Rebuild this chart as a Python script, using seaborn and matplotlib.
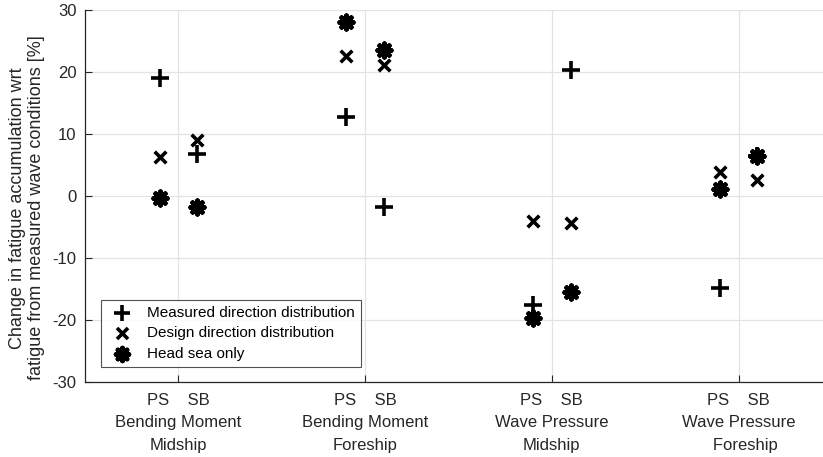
import numpy as np
import pandas as pd
import matplotlib
matplotlib.use("Agg")
import matplotlib.pyplot as plt
import seaborn as sns

# Load cases along the x axis
groups = ["Bending Moment\nMidship", "Bending Moment\nForeship",
          "Wave Pressure\nMidship", "Wave Pressure\n   Foreship"]
sides = ["PS", "SB"]
side_offset = {"PS": -0.1, "SB": 0.1}

# Change in fatigue accumulation [%], ordered per group as (PS, SB)
measured = [19.1, 6.7, 12.7, -1.7, -17.6, 20.4, -14.9, 6.4]
design = [6.3, 9.0, 22.6, 21.2, -4.1, -4.4, 3.9, 2.6]
head_sea = [-0.4, -1.7, 28.0, 23.6, -19.7, -15.5, 1.2, 6.5]

series = {
    "Measured direction distribution": measured,
    "Design direction distribution": design,
    "Head sea only": head_sea,
}

rows = []
for name, vals in series.items():
    for i, v in enumerate(vals):
        g = i // 2
        s = sides[i % 2]
        rows.append({"pos": g + 1 + side_offset[s], "value": v, "case": name})
df = pd.DataFrame(rows)

sns.set_theme(style="whitegrid")
plt.rcParams["font.family"] = ["Liberation Sans", "DejaVu Sans"]

fig = plt.figure(figsize=(8.23, 4.57), dpi=100)
ax = fig.add_axes([85 / 823, 1 - 382 / 457, 747 / 823, 372 / 457])

markers = {
    "Measured direction distribution": "+",
    "Design direction distribution": "x",
    "Head sea only": (8, 2, 0),
}
sizes = {"Measured direction distribution": 150,
         "Design direction distribution": 70,
         "Head sea only": 95}
widths = {"Measured direction distribution": 2.6,
          "Design direction distribution": 2.6,
          "Head sea only": 3.4}

for name in series:
    sub = df[df["case"] == name]
    sns.scatterplot(data=sub, x="pos", y="value", marker=markers[name],
                    color="black", s=sizes[name], linewidth=widths[name],
                    label=name, ax=ax, zorder=3)

ax.set_xlim(0.5, 4.5)
ax.set_ylim(-30, 30)
ax.set_yticks(np.arange(-30, 31, 10))
ax.set_yticklabels([str(v) for v in np.arange(-30, 31, 10)])
ax.set_xticks([1, 2, 3, 4])
ax.set_xticklabels(["PS    SB\n" + g for g in groups], linespacing=1.6)
ax.set_xlabel("")
ax.set_ylabel("Change in fatigue accumulation wrt\nfatigue from measured wave conditions [%]",
              fontsize=13, color="#262626", linespacing=1.1)
ax.yaxis.set_label_coords(-0.054, 0.468)

ax.grid(True, color="#e3e3e3", linewidth=0.9)
for side in ["top", "right"]:
    ax.spines[side].set_visible(False)
for side in ["left", "bottom"]:
    ax.spines[side].set_visible(True)
    ax.spines[side].set_color("#262626")
    ax.spines[side].set_linewidth(0.9)

ax.tick_params(axis="both", direction="in", length=5, width=0.8, color="#262626",
               labelsize=12, labelcolor="#262626", pad=6, left=True, bottom=True)
ax.tick_params(axis="x", pad=8)

leg = ax.legend(loc="lower left", bbox_to_anchor=(0.0214, 0.040), borderaxespad=0,
                frameon=True, fontsize=11, handletextpad=0.6, borderpad=0.4,
                labelspacing=0.43, markerscale=0.95, fancybox=False)
leg.get_frame().set_edgecolor("#262626")
leg.get_frame().set_linewidth(0.8)
for t in leg.get_texts():
    t.set_color("black")

fig.savefig("out.png", dpi=100)
